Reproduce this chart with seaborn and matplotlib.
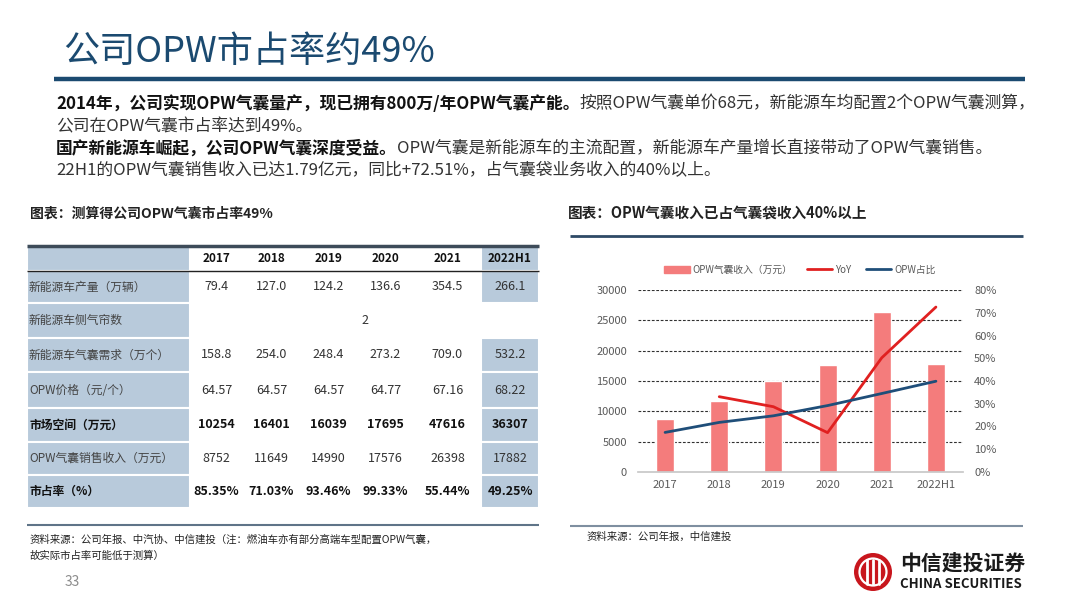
import numpy as np
import pandas as pd
import seaborn as sns
import matplotlib.pyplot as plt
from matplotlib.patches import Rectangle, Circle, Patch
from matplotlib.lines import Line2D

sns.set_theme(style='white')
plt.rcParams['font.family'] = ['Noto Sans CJK SC', 'DejaVu Sans']
plt.rcParams['axes.unicode_minus'] = False

W, H = 1080, 608

# ---- data ----
years = ['2017', '2018', '2019', '2020', '2021', '2022H1']
nev_output = [79.4, 127.0, 124.2, 136.6, 354.5, 266.1]      # 新能源车产量（万辆）
curtain_per_car = 2                                        # 新能源车侧气帘数
airbag_demand = [158.8, 254.0, 248.4, 273.2, 709.0, 532.2]  # 气囊需求（万个）
opw_price = [64.57, 64.57, 64.57, 64.77, 67.16, 68.22]      # OPW价格（元/个）
market_size = [10254, 16401, 16039, 17695, 47616, 36307]    # 市场空间（万元）
opw_revenue = [8752, 11649, 14990, 17576, 26398, 17882]     # OPW气囊销售收入（万元）
market_share = [85.35, 71.03, 93.46, 99.33, 55.44, 49.25]   # 市占率（%）
yoy = [np.nan, 33.1, 28.7, 17.3, 50.2, 72.51]               # YoY (%)
opw_ratio = [17.4, 21.8, 24.7, 29.2, 34.5, 39.9]            # OPW占比 (%)

row_labels = ['新能源车产量（万辆）', '新能源车侧气帘数', '新能源车气囊需求（万个）',
              'OPW价格（元/个）', '市场空间（万元）', 'OPW气囊销售收入（万元）', '市占率（%）']

fig = plt.figure(figsize=(10.8, 6.08), dpi=100)
bg = fig.add_axes([0, 0, 1, 1])
bg.set_xlim(0, W)
bg.set_ylim(H, 0)
bg.axis('off')
renderer = fig.canvas.get_renderer()

# ---- slide header ----
bg.text(63, 52, '公司OPW市占率约49%', fontsize=26, fontweight='medium', color='#1b4a70',
        va='center', ha='left')
bg.plot([54, 1025], [79, 79], color='#1b4a70', lw=3.2, solid_capstyle='butt')


def run_text(x, y, parts, size=12.1):
    for s, bold in parts:
        t = bg.text(x, y, s, fontsize=size, fontweight='bold' if bold else 'normal',
                    color='#111111' if bold else '#333333', va='center', ha='left')
        x += t.get_window_extent(renderer=renderer).width


run_text(56, 104, [('2014年，公司实现OPW气囊量产，现已拥有800万/年OPW气囊产能。', True),
                   ('按照OPW气囊单价68元，新能源车均配置2个OPW气囊测算，', False)])
run_text(56, 127, [('公司在OPW气囊市占率达到49%。', False)])
run_text(56, 149, [('国产新能源车崛起，公司OPW气囊深度受益。', True),
                   ('OPW气囊是新能源车的主流配置，新能源车产量增长直接带动了OPW气囊销售。', False)])
run_text(56, 171, [('22H1的OPW气囊销售收入已达1.79亿元，同比+72.51%，占气囊袋业务收入的40%以上。', False)])

# ---- left table ----
bg.text(30, 214, '图表：测算得公司OPW气囊市占率49%', fontsize=10, fontweight='bold',
        color='#222222', va='center')
shade = '#b8cadb'
col_edges = [27, 190, 243, 300, 357, 414, 481, 539]
row_edges = [246, 271, 303, 338, 372, 408, 442, 475, 508]
col_centers = [(col_edges[i + 1] + col_edges[i + 2]) / 2 for i in range(len(years))]

for r in range(len(row_edges) - 1):
    y0, y1 = row_edges[r], row_edges[r + 1]
    bg.add_patch(Rectangle((col_edges[0], y0), col_edges[1] - col_edges[0], y1 - y0,
                           facecolor=shade, edgecolor='white', lw=1.5))
    if r != 2:
        bg.add_patch(Rectangle((col_edges[-2], y0), col_edges[-1] - col_edges[-2], y1 - y0,
                               facecolor=shade, edgecolor='white', lw=1.5))

bg.plot([27, 539], [246, 246], color='#3d4b59', lw=2.5, solid_capstyle='butt')
bg.plot([27, 539], [271, 271], color='#222222', lw=1, solid_capstyle='butt')
bg.plot([27, 539], [525, 525], color='#5f7488', lw=1.5, solid_capstyle='butt')

for c, yr in zip(col_centers, years):
    bg.text(c, 258.5, yr, fontsize=8.5, fontweight='bold', color='#111111', ha='center', va='center')

rows_fmt = [
    [f'{v:.1f}' for v in nev_output],
    None,
    [f'{v:.1f}' for v in airbag_demand],
    [f'{v:.2f}' for v in opw_price],
    [f'{v:d}' for v in market_size],
    [f'{v:d}' for v in opw_revenue],
    [f'{v:.2f}%' for v in market_share],
]
bold_rows = {4, 6}
for i, (lab, vals) in enumerate(zip(row_labels, rows_fmt)):
    yc = (row_edges[i + 1] + row_edges[i + 2]) / 2
    b = i in bold_rows
    bg.text(29, yc, lab, fontsize=8.5, fontweight='bold' if b else 'normal',
            color='#111111' if b else '#444444', va='center', ha='left')
    if vals is None:
        bg.text((col_edges[1] + col_edges[-1]) / 2, yc, str(curtain_per_car), fontsize=9,
                color='#333333', ha='center', va='center')
        continue
    for c, v in zip(col_centers, vals):
        bg.text(c, yc, v, fontsize=9, fontweight='bold' if b else 'normal',
                color='#111111' if b else '#333333', ha='center', va='center')

bg.text(30, 540, '资料来源：公司年报、中汽协、中信建投（注：燃油车亦有部分高端车型配置OPW气囊，',
        fontsize=7.5, color='#222222', va='center')
bg.text(30, 556, '故实际市占率可能低于测算）', fontsize=7.5, color='#222222', va='center')
bg.text(65, 582, '33', fontsize=10, color='#8c8c8c', va='center')

# ---- right chart ----
bg.text(568, 213, '图表：OPW气囊收入已占气囊袋收入40%以上', fontsize=10.5, fontweight='bold',
        color='#222222', va='center')
bg.plot([570, 1023], [236, 236], color='#2e4a66', lw=2, solid_capstyle='butt')
bg.plot([570, 1023], [526, 526], color='#7f8fa0', lw=1.5, solid_capstyle='butt')
bg.text(587, 537, '资料来源：公司年报，中信建投', fontsize=7.5, color='#222222', va='center')

df = pd.DataFrame({'year': years, 'revenue': opw_revenue, 'yoy': yoy, 'ratio': opw_ratio})
df['pos'] = range(len(df))

bar_c, yoy_c, ratio_c = '#f47c7c', '#e02020', '#1f4e79'
ax = fig.add_axes([638 / W, 1 - 472 / H, 325 / W, 182 / H])
sns.barplot(data=df, x='year', y='revenue', color=bar_c, saturation=1, width=0.33, ax=ax)
ax.set_xlim(-0.5, 5.5)
ax.set_ylim(0, 30000)
ax.set_yticks(range(0, 30001, 5000))
ax.set_axisbelow(True)
for v in range(5000, 30001, 5000):
    ax.axhline(v, color='#303030', lw=0.8, ls=(0, (2.5, 1.5)), zorder=0)
for s in ['top', 'left', 'right']:
    ax.spines[s].set_visible(False)
ax.spines['bottom'].set_color('#c8c8c8')
ax.set_xlabel('')
ax.set_ylabel('')
ax.tick_params(axis='both', length=0, labelsize=8, labelcolor='#595959')
ax.tick_params(axis='y', pad=8)
ax.tick_params(axis='x', pad=6)

ax2 = ax.twinx()
sns.lineplot(data=df.dropna(), x='pos', y='yoy', color=yoy_c, lw=2, ax=ax2)
sns.lineplot(data=df, x='pos', y='ratio', color=ratio_c, lw=2, ax=ax2)
ax2.set_ylim(0, 80)
ax2.set_yticks(range(0, 81, 10))
ax2.set_yticklabels([f'{v}%' for v in range(0, 81, 10)])
ax2.set_ylabel('')
for s in ax2.spines.values():
    s.set_visible(False)
ax2.tick_params(axis='y', length=0, labelsize=8, labelcolor='#595959', pad=8)
ax2.set_xlim(-0.5, 5.5)

handles = [Patch(color=bar_c), Line2D([], [], color=yoy_c, lw=2), Line2D([], [], color=ratio_c, lw=2)]
fig.legend(handles, ['OPW气囊收入（万元）', 'YoY', 'OPW占比'], loc='center',
           bbox_to_anchor=(800 / W, 1 - 270 / H), ncol=3, frameon=False, fontsize=7,
           labelcolor='#595959', handlelength=2.6, handleheight=0.8, columnspacing=1.5,
           handletextpad=0.3)

# ---- logo ----
bg.add_patch(Circle((873, 572), 19, facecolor='#c8161d', edgecolor='none'))
bg.add_patch(Circle((873, 572), 13.5, facecolor='none', edgecolor='white', lw=1.6))
for dx in (-6, 0, 6):
    bg.plot([873 + dx, 873 + dx], [560, 584], color='white', lw=2)
bg.text(900, 563, '中信建投证券', fontsize=15, fontweight='bold', color='#1a1a1a', va='center')
bg.text(900, 584, 'CHINA SECURITIES', fontsize=9.5, fontweight='bold', color='#1a1a1a', va='center')

fig.savefig('out.png', dpi=100)
